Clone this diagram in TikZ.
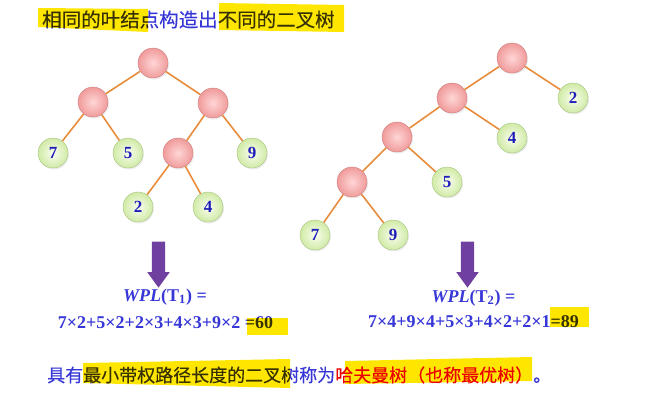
\documentclass[tikz,border=0pt]{standalone}
\usepackage{fontspec}
\setmainfont{Liberation Serif}
\newfontfamily\cjk[FakeBold=0.3]{Noto Sans CJK SC}
\usepackage{tikz}
\usetikzlibrary{positioning}
\usetikzlibrary{shapes.arrows,shadows}

\definecolor{textblue}{RGB}{55,55,215}
\definecolor{numblue}{RGB}{30,30,185}
\definecolor{hlyellow}{RGB}{255,230,0}
\definecolor{textred}{RGB}{235,0,0}
\definecolor{edgeorange}{RGB}{232,140,60}
\definecolor{pinkin}{RGB}{255,214,214}
\definecolor{pinkout}{RGB}{240,155,155}
\definecolor{pinkline}{RGB}{205,125,125}
\definecolor{leafin}{RGB}{250,254,240}
\definecolor{leafout}{RGB}{208,234,166}
\definecolor{leafline}{RGB}{165,195,125}
\definecolor{arrowpurple}{RGB}{112,64,160}

\begin{document}
\begin{tikzpicture}[x=1pt,y=-1pt,on grid,
  inner node/.style={circle,draw=pinkline,inner color=pinkin,outer color=pinkout,minimum size=30pt,inner sep=0pt,
    drop shadow={opacity=0.15,shadow xshift=1pt,shadow yshift=-1.5pt}},
  leaf node/.style={circle,draw=leafline,inner color=leafin,outer color=leafout,minimum size=30pt,inner sep=0pt,
    drop shadow={opacity=0.15,shadow xshift=1pt,shadow yshift=-1.5pt},
    font=\fontsize{17}{17}\selectfont\bfseries,text=numblue},
  tree edge/.style={draw=edgeorange,line width=1.6pt},
  down arrow/.style={single arrow,shape border rotate=270,fill=arrowpurple,draw=none,inner sep=6.5pt,
    minimum height=46pt,single arrow head extend=4.5pt,single arrow tip angle=72},
  formula/.style={font=\fontsize{18}{20}\selectfont\bfseries,text=textblue,inner sep=0pt},
  cjk text/.style={anchor=west,inner sep=0pt},
  mark bar/.style={fill=hlyellow,blend mode=multiply}]

  \useasboundingbox (0,0) rectangle (668,407);

  % title
  \node[cjk text,font=\cjk\fontsize{19.5}{20}\selectfont,text=textblue] (title) at (42,19.5) {相同的叶结点构造出不同的二叉树};

  % left tree
  \node[inner node] (r1) at (153,63) {};
  \node[inner node] (a1) [below left=39pt and 60pt of r1] {};
  \node[inner node] (b1) [below right=40pt and 60pt of r1] {};
  \node[leaf node] (l7) [below left=51pt and 40pt of a1] {7};
  \node[leaf node] (l5) [below right=51pt and 35pt of a1] {5};
  \node[inner node] (c1) [below left=50pt and 35pt of b1] {};
  \node[leaf node] (l9) [below right=50pt and 39pt of b1] {9};
  \node[leaf node] (l2) [below left=54pt and 40pt of c1] {2};
  \node[leaf node] (l4) [below right=54pt and 30pt of c1] {4};

  \path[tree edge]
    (r1) edge (a1)
         edge (b1)
    (a1) edge (l7)
         edge (l5)
    (b1) edge (c1)
         edge (l9)
    (c1) edge (l2)
         edge (l4);

  % right tree
  \node[inner node] (r2) at (512,58) {};
  \node[leaf node] (m2) [below right=40pt and 61pt of r2] {2};
  \node[inner node] (d2) [below left=40pt and 60pt of r2] {};
  \node[leaf node] (m4) [below right=40pt and 60pt of d2] {4};
  \node[inner node] (e2) [below left=39pt and 55pt of d2] {};
  \node[leaf node] (m5) [below right=45pt and 50pt of e2] {5};
  \node[inner node] (f2) [below left=45pt and 45pt of e2] {};
  \node[leaf node] (m7) [below left=53pt and 37pt of f2] {7};
  \node[leaf node] (m9) [below right=53pt and 41pt of f2] {9};

  \path[tree edge]
    (r2) edge (d2)
         edge (m2)
    (d2) edge (e2)
         edge (m4)
    (e2) edge (f2)
         edge (m5)
    (f2) edge (m7)
         edge (m9);

  % arrows and sums
  \node[down arrow] (arrL) at (158.5,260) {};
  \node[down arrow] (arrR) [right=309pt of arrL] {};

  \node[formula] (wplL) at (165,297) {\textit{WPL}(T\textsubscript{1}) =};
  \node[formula] (sumL) at (165.5,323) {7×2+5×2+2×3+4×3+9×2 =60};
  \node[formula] (wplR) at (473.5,298) {\textit{WPL}(T\textsubscript{2}) =};
  \node[formula] (sumR) at (473.5,322) {7×4+9×4+5×3+4×2+2×1=89};

  % summary
  \node[cjk text,font=\cjk\fontsize{18}{20}\selectfont,text=textblue] (summary) at (47,375)
    {具有最小带权路径长度的二叉树称为\textcolor{textred}{哈夫曼树（也称最优树）}。};

  % highlighter marks
  \fill[mark bar] (38,8) -- (148,9) -- (148,32) -- (38,27) -- cycle;
  \fill[mark bar] (219,3) -- (344,5) -- (344,32) -- (219,30) -- cycle;
  \fill[mark bar] (247,318) rectangle (288,335);
  \fill[mark bar] (550,307) rectangle (589,327);
  \fill[mark bar] (83,363) -- (290,359) -- (290,388) -- (83,383) -- cycle;
  \fill[mark bar] (345,361) -- (532,357) -- (532,381) -- (345,384) -- cycle;

\end{tikzpicture}
\end{document}
